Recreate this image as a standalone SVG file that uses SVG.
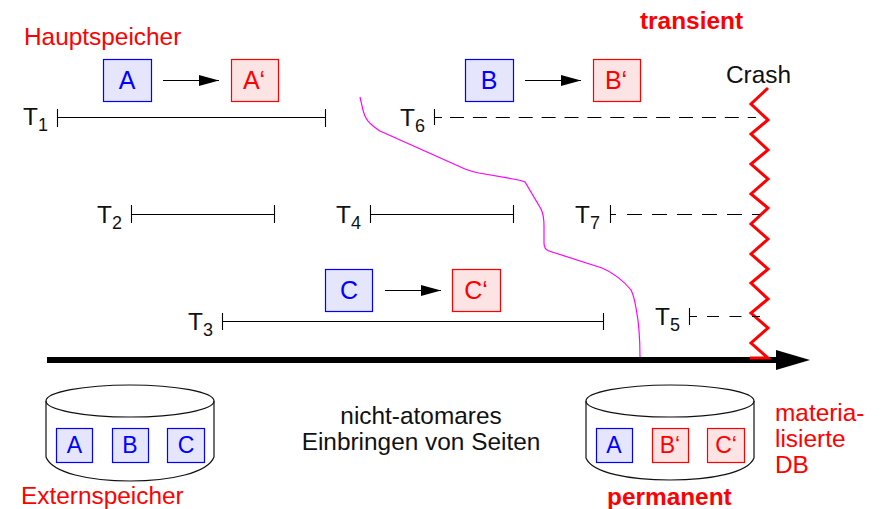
<svg xmlns="http://www.w3.org/2000/svg" width="881" height="509" viewBox="0 0 881 509">
<style>
text{font-family:"Liberation Sans",Arial,sans-serif;font-size:24.400px;fill:#111}
.r{fill:#f00}
.rb{fill:#f00;font-weight:bold}
.m{text-anchor:middle}
.bl{fill:#00f;font-size:25px;text-anchor:middle}
.rd{fill:#f00;font-size:25px;text-anchor:middle}
.sm{font-size:23px}
.boxb{fill:#e5e6fb;stroke:#00f;stroke-width:1.2}
.boxr{fill:#fde4e4;stroke:#f00;stroke-width:1.2}
.l{stroke:#000;stroke-width:1.1;fill:none}
.d{stroke:#000;stroke-width:1.1;fill:none}
.cyl{fill:none;stroke:#111;stroke-width:1.2}
.sub{font-size:18px}
</style>
<defs>
<marker id="ah" markerUnits="userSpaceOnUse" markerWidth="20" markerHeight="12" refX="20" refY="6" orient="auto"><path d="M0 0.500L20 6L0 11.500Z" fill="#000"/></marker>
</defs>
<rect width="881" height="509" fill="#fff"/>
<g id="labels">
<text class="r" x="24" y="45">Hauptspeicher</text>
<text class="rb" x="640" y="29">transient</text>
<text x="726" y="83">Crash</text>
<text class="r" x="21" y="503.500">Externspeicher</text>
<text class="rb" x="607" y="505">permanent</text>
<text class="r" x="775" y="421">materia-</text>
<text class="r" x="775" y="447">lisierte</text>
<text class="r" x="775" y="473">DB</text>
<text class="m" x="421" y="424">nicht-atomares</text>
<text class="m" x="421" y="450">Einbringen von Seiten</text>
</g>
<g id="connectors">
<path id="magenta" d="M360 97C362 105 363 113 366 118C369 124 374 127 380 131L465 169C470 171 474 172 479 173L513 179C519 180 523 181 525 182L541 209C544 215 544 220 544 226L544 243C544 248 546 250 549 251L602 268C612 272 624 281 631 290C634 296 635 302 636 308C638 318 640 330 640 357" fill="none" stroke="#f0f" stroke-width="1.200"/>
<path id="timeline" d="M47 360H776" stroke="#000" stroke-width="6" fill="none"/>
<path id="timeline-head" d="M776 350L810 360L776 370Z" fill="#000"/>
<path id="crash" d="M768 88L751 104L768 120L751 134L768 150L751 164L768 179L751 194L768 208L751 224L768 239L751 254L768 269L751 283L768 299L751 313L768 328L751 343L768 358H750" fill="none" stroke="#f00" stroke-width="3"/>
<path class="l" d="M163 80.500H219" marker-end="url(#ah)"/>
<path class="l" d="M525 80.500H581" marker-end="url(#ah)"/>
<path class="l" d="M385 290.500H441" marker-end="url(#ah)"/>
</g>
<g id="T1"><text x="23" y="125">T<tspan class="sub" dy="6">1</tspan></text><path class="l" d="M57.500 109V127M57.500 117.500H325.500M325.500 109V127"/></g>
<g id="T2"><text x="97" y="223">T<tspan class="sub" dy="6">2</tspan></text><path class="l" d="M131.500 205V223M131.500 214.500H274.500M274.500 205V223"/></g>
<g id="T3"><text x="188" y="330">T<tspan class="sub" dy="6">3</tspan></text><path class="l" d="M222.500 313V330M222.500 321.500H603.500M603.500 313V330"/></g>
<g id="T4"><text x="336" y="223">T<tspan class="sub" dy="6">4</tspan></text><path class="l" d="M370.500 205V223M370.500 214.500H513.500M513.500 205V223"/></g>
<g id="T5"><text x="655" y="325">T<tspan class="sub" dy="6">5</tspan></text><path class="l" d="M689.500 308V325M689.500 316.500H697"/><path class="d" stroke-dasharray="12 10.500" d="M707 316.500H760"/></g>
<g id="T6"><text x="400" y="126">T<tspan class="sub" dy="6">6</tspan></text><path class="l" d="M434.500 109V125M434.500 117.500H442"/><path class="d" stroke-dasharray="14 8.900" d="M450 117.500H756"/></g>
<g id="T7"><text x="575" y="223">T<tspan class="sub" dy="6">7</tspan></text><path class="l" d="M610.500 205V223M610.500 214.500H616"/><path class="d" stroke-dasharray="15 10" d="M627 214.500H760"/></g>
<g id="A"><rect class="boxb" x="103.500" y="59.500" width="48" height="42"/><text class="bl" x="127" y="89">A</text></g>
<g id="A1"><rect class="boxr" x="231.500" y="59.500" width="47" height="42"/><text class="rd" x="254" y="89">A‘</text></g>
<g id="B"><rect class="boxb" x="465.500" y="59.500" width="48" height="42"/><text class="bl" x="489" y="89">B</text></g>
<g id="B1"><rect class="boxr" x="593.500" y="59.500" width="47" height="42"/><text class="rd" x="616" y="89">B‘</text></g>
<g id="C"><rect class="boxb" x="325.500" y="269.500" width="47" height="42"/><text class="bl" x="349" y="299">C</text></g>
<g id="C1"><rect class="boxr" x="452.500" y="269.500" width="48" height="42"/><text class="rd" x="476" y="299">C‘</text></g>
<g id="disk-left">
<ellipse class="cyl" cx="130" cy="401" rx="84" ry="16"/>
<path class="cyl" d="M46 401V457C52 473 90 481 130 481C170 481 208 473 214 457V401"/>
<rect class="boxb" x="56.500" y="428.500" width="36" height="34"/><text class="bl sm" x="74.500" y="453">A</text>
<rect class="boxb" x="112.500" y="428.500" width="36" height="34"/><text class="bl sm" x="130" y="453">B</text>
<rect class="boxb" x="167.500" y="428.500" width="37" height="34"/><text class="bl sm" x="186" y="453">C</text>
</g>
<g id="disk-right">
<ellipse class="cyl" cx="670" cy="401" rx="84" ry="16"/>
<path class="cyl" d="M586 401V458C592 473 630 480 670 480C710 480 748 473 754 458V401"/>
<rect class="boxb" x="596.500" y="428.500" width="36" height="34"/><text class="bl sm" x="614" y="453">A</text>
<rect class="boxr" x="652.500" y="428.500" width="36" height="34"/><text class="rd sm" x="670" y="453">B‘</text>
<rect class="boxr" x="707.500" y="428.500" width="37" height="34"/><text class="rd sm" x="726" y="453">C‘</text>
</g>
</svg>
